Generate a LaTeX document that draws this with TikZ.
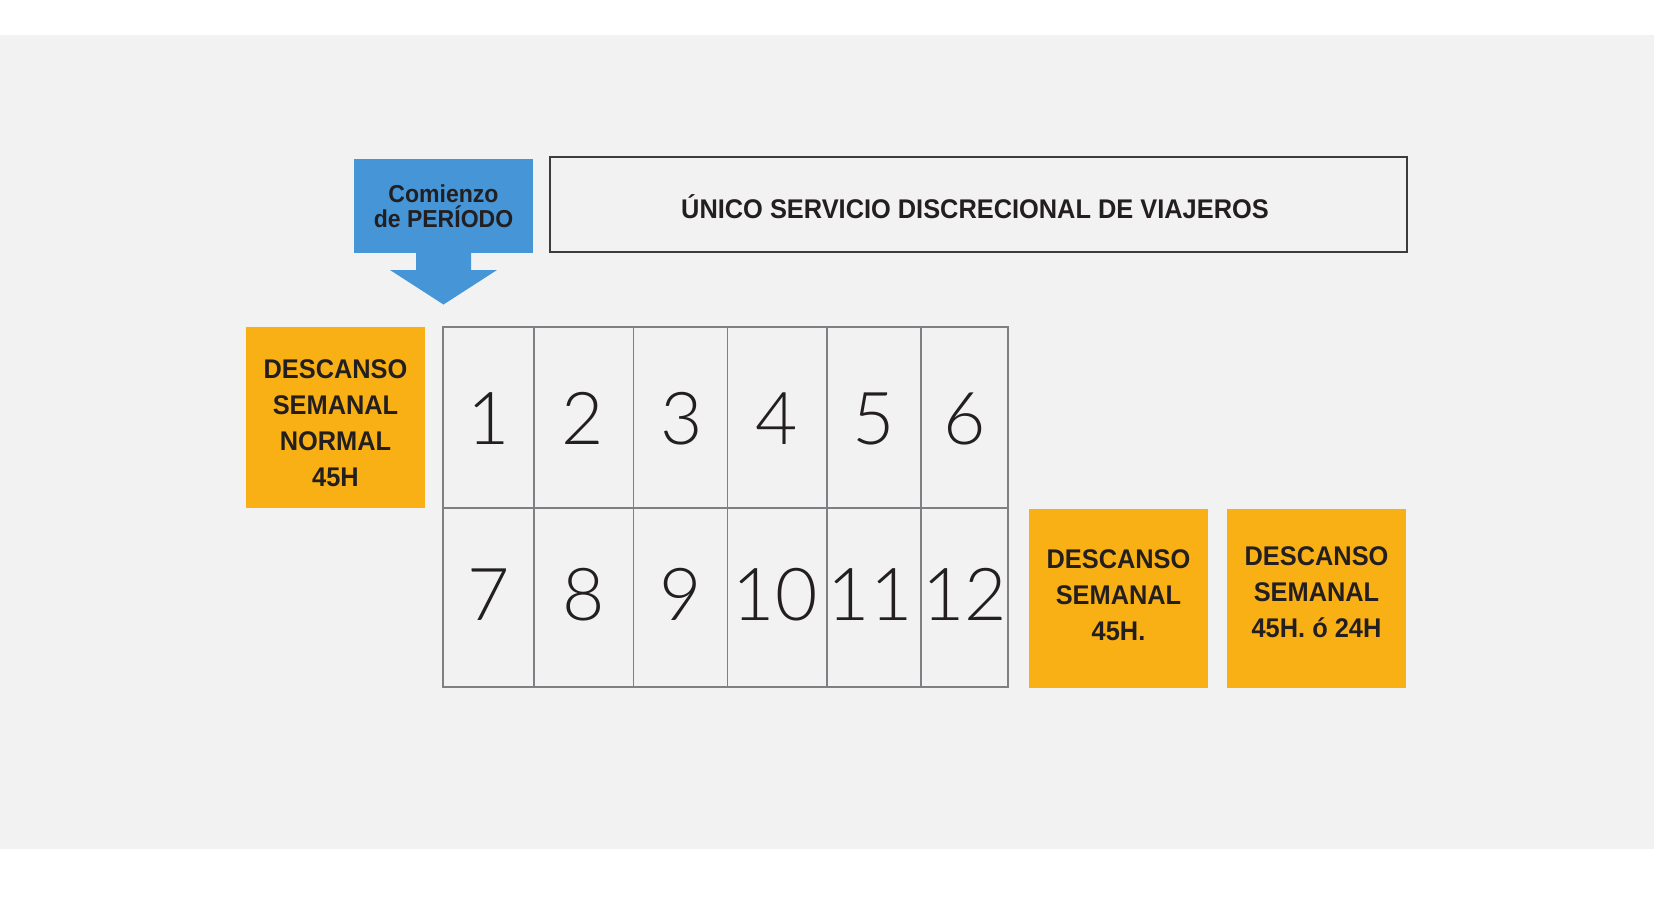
\documentclass[tikz,border=0pt]{standalone}
\usepackage{fontspec}
\setmainfont{Liberation Sans}
\newfontfamily\labf{Liberation Sans}[FakeStretch=0.94]
\IfFontExistsTF{Lato Light}{\newfontfamily\numf{Lato Light}}{%
  \IfFontExistsTF{Fira Sans Light}{\newfontfamily\numf{Fira Sans Light}}{%
    \newfontfamily\numf{Liberation Sans}}}
\definecolor{bg}{RGB}{242,242,242}
\definecolor{bluec}{RGB}{69,149,215}
\definecolor{orangec}{RGB}{249,176,20}
\definecolor{txt}{RGB}{35,31,32}
\definecolor{gridc}{RGB}{128,128,132}
\definecolor{framec}{RGB}{60,60,60}
\begin{document}
\begin{tikzpicture}[x=1pt,y=-1pt,
  lab/.style={font=\labf\bfseries\fontsize{27}{36}\selectfont, text=txt, align=center, inner sep=0pt},
  obox/.style={fill=orangec, minimum width=179pt, anchor=north west, inner sep=0pt, outer sep=0pt},
  cell/.style={draw=gridc, line width=1.5pt, anchor=north west, inner sep=0pt, outer sep=0pt},
  num/.style={font=\numf\fontsize{73}{73}\selectfont, text=txt, anchor=base, inner sep=0pt}]
\useasboundingbox (0,0) rectangle (1654,910);
\fill[white] (0,0) rectangle (1654,910);
\fill[bg] (0,35) rectangle (1654,849);

% start box and block arrow
\node[fill=bluec, minimum width=179pt, minimum height=94pt, anchor=north west,
      inner sep=0pt, outer sep=0pt] (start) at (354,159) {};
\node[font=\labf\bfseries\fontsize{24.5}{25}\selectfont, text=txt, align=center,
      inner sep=0pt] (starttxt) at (443.5,206.5) {Comienzo\\de PERÍODO};
\fill[bluec] (416,252) -- (471,252) -- (471,270) -- (497,270) -- (443.5,304.5)
  -- (390,270) -- (416,270) -- cycle;

% title
\node[draw=framec, line width=1.5pt, minimum width=857pt, minimum height=95pt,
      anchor=north west, inner sep=0pt, outer sep=0pt] (title) at (550,157) {};
\node[lab] (titletxt) at (975,207) {ÚNICO SERVICIO DISCRECIONAL DE VIAJEROS};

% rest boxes
\node[obox, minimum height=181pt] (restL) at (246,327) {};
\node[lab] (restLtxt) at (335.5,423) {DESCANSO\\SEMANAL\\NORMAL\\45H};
\node[obox, minimum height=179pt] (restA) at (1029,509) {};
\node[lab] (restAtxt) at (1118.5,595) {DESCANSO\\SEMANAL\\45H.};
\node[obox, minimum height=179pt] (restB) at (1227,509) {};
\node[lab] (restBtxt) at (1316.5,592) {DESCANSO\\SEMANAL\\45H. ó 24H};

% grid cells
\node[cell, minimum width=91pt,   minimum height=181pt] (c1) at (443,327) {};
\node[cell, minimum width=99.5pt, minimum height=181pt] (c2) at (534,327) {};
\node[cell, minimum width=94pt,   minimum height=181pt] (c3) at (633.5,327) {};
\node[cell, minimum width=99.5pt, minimum height=181pt] (c4) at (727.5,327) {};
\node[cell, minimum width=94pt,   minimum height=181pt] (c5) at (827,327) {};
\node[cell, minimum width=87pt,   minimum height=181pt] (c6) at (921,327) {};
\node[cell, minimum width=91pt,   minimum height=179pt] (c7) at (443,508) {};
\node[cell, minimum width=99.5pt, minimum height=179pt] (c8) at (534,508) {};
\node[cell, minimum width=94pt,   minimum height=179pt] (c9) at (633.5,508) {};
\node[cell, minimum width=99.5pt, minimum height=179pt] (c10) at (727.5,508) {};
\node[cell, minimum width=94pt,   minimum height=179pt] (c11) at (827,508) {};
\node[cell, minimum width=87pt,   minimum height=179pt] (c12) at (921,508) {};

% numbers
\node[num] (n1) at (489,444) {1};
\node[num] (n2) at (583,444) {2};
\node[num] (n3) at (682,444) {3};
\node[num] (n4) at (777,444) {4};
\node[num] (n5) at (874,444) {5};
\node[num] (n6) at (964.5,444) {6};
\node[num] (n7) at (488.5,620) {7};
\node[num] (n8) at (583.5,620) {8};
\node[num] (n9) at (680.5,620) {9};
\node[num] (n10) at (775,620) {10};
\node[num] (n11) at (870,620) {11};
\node[num] (n12) at (964.5,620) {12};
\end{tikzpicture}
\end{document}
